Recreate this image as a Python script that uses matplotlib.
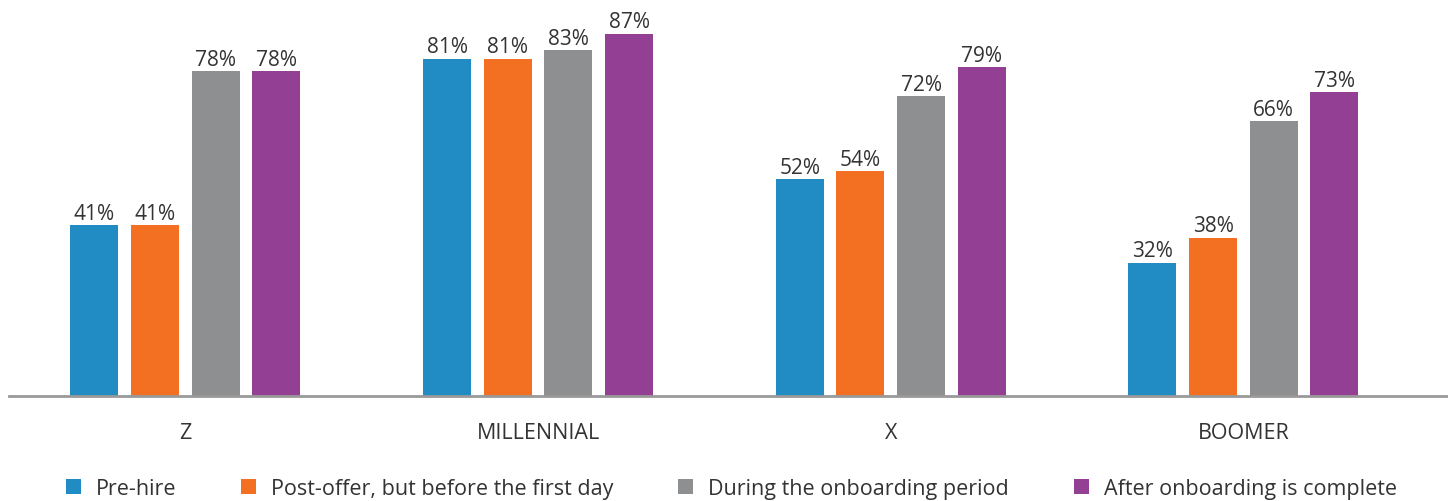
import numpy as np
import matplotlib.pyplot as plt

# Data
groups = ["Z", "MILLENNIAL", "X", "BOOMER"]
series = ["Pre-hire", "Post-offer, but before the first day",
          "During the onboarding period", "After onboarding is complete"]
pre_hire = [41, 81, 52, 32]
post_offer = [41, 81, 54, 38]
during = [78, 83, 72, 66]
after = [78, 87, 79, 73]
colors = ["#218BC3", "#F36F21", "#8E8F91", "#923F94"]

plt.rcParams['font.family'] = ['Open Sans', 'DejaVu Sans']

fig = plt.figure(figsize=(14.48, 5.02), dpi=100)
ax = fig.add_axes([0.0062, 0.209, 0.9938, 0.747])

x = np.arange(len(groups))
step = 0.172
width = 0.136
for i, (vals, name, c) in enumerate(zip([pre_hire, post_offer, during, after], series, colors)):
    pos = x + (i - 1.5) * step
    bars = ax.bar(pos, vals, width, color=c, label=name)
    for b, v in zip(bars, vals):
        ax.annotate(f"{v}%", (b.get_x() + b.get_width() / 2, v),
                    xytext=(0, 1), textcoords="offset points",
                    ha="center", va="bottom", fontsize=15, color="#333333")

ax.set_xlim(-0.5, 3.58)
ax.set_ylim(0, 90)
ax.set_yticks([])
ax.set_xticks(x)
ax.set_xticklabels(groups, fontsize=15.5, color="#333333")
ax.tick_params(axis="x", length=0, pad=19)
for s in ["top", "right", "left"]:
    ax.spines[s].set_visible(False)
ax.spines["bottom"].set_color("#999999")
ax.spines["bottom"].set_linewidth(2)

leg = fig.legend(loc="lower center", bbox_to_anchor=(0.505, -0.035), ncol=4,
                 frameon=False, fontsize=15.5, handlelength=0.7, handleheight=0.7,
                 handletextpad=0.7, columnspacing=3.0, labelcolor="#333333")

fig.savefig("out.png", dpi=100)
